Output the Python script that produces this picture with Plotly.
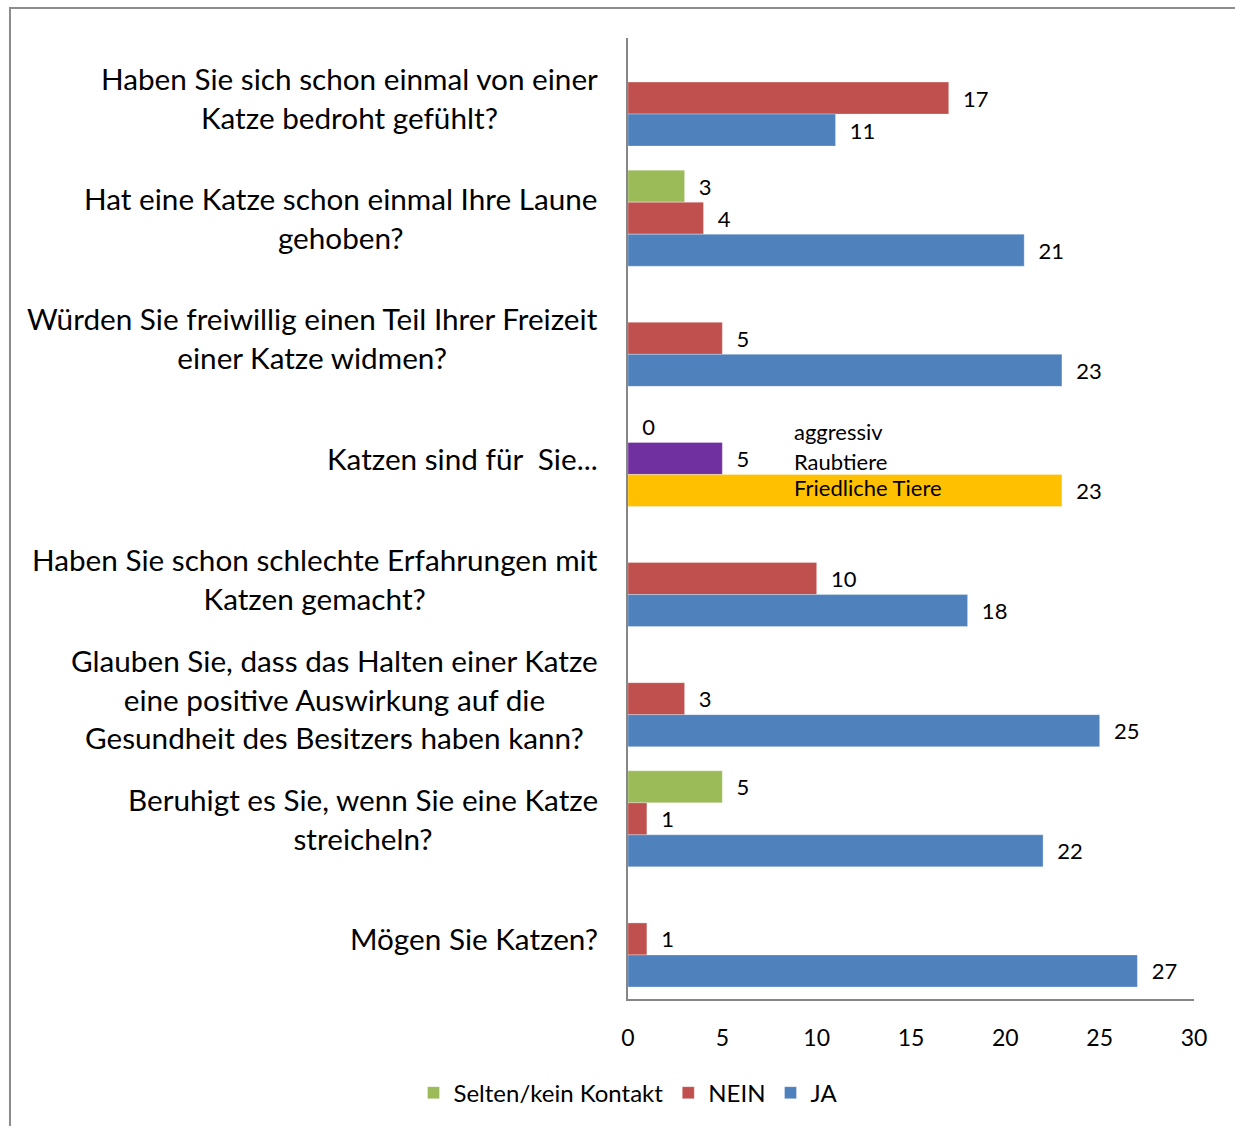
import plotly.graph_objects as go

# ---- data ----
categories = [
    "Haben Sie sich schon einmal von einer<br>Katze bedroht gefühlt?",
    "Hat eine Katze schon einmal Ihre Laune<br>gehoben?",
    "Würden Sie freiwillig einen Teil Ihrer Freizeit<br>einer Katze widmen?",
    "Katzen sind für  Sie...",
    "Haben Sie schon schlechte Erfahrungen mit<br>Katzen gemacht?",
    "Glauben Sie, dass das Halten einer Katze<br>eine positive Auswirkung auf die<br>Gesundheit des Besitzers haben kann?",
    "Beruhigt es Sie, wenn Sie eine Katze<br>streicheln?",
    "Mögen Sie Katzen?",
]
selten = [None, 3, None, 0, None, None, 5, None]
nein = [17, 4, 5, 5, 10, 3, 1, 1]
ja = [11, 21, 23, 23, 18, 25, 22, 27]
series_names = ["Selten/kein Kontakt", "NEIN", "JA"]
katzen_labels = ["aggressiv", "Raubtiere", "Friedliche Tiere"]
x_ticks = [0, 5, 10, 15, 20, 25, 30]

GREEN = "#9BBB59"
RED = "#C0504D"
BLUE = "#4F81BD"
PURPLE = "#7030A0"
GOLD = "#FFC000"
FONT = "Lato, 'Open Sans', sans-serif"

special = categories.index("Katzen sind für  Sie...")
nein_colors = [PURPLE if i == special else RED for i in range(len(categories))]
ja_colors = [GOLD if i == special else BLUE for i in range(len(categories))]


def labels(vals):
    return ["  %d" % v if v is not None else "" for v in vals]


fig = go.Figure()
for name, vals, col in [
    (series_names[0], selten, GREEN),
    (series_names[1], nein, nein_colors),
    (series_names[2], ja, ja_colors),
]:
    fig.add_trace(go.Bar(
        y=categories, x=vals, orientation="h", name=name,
        marker=dict(color=col, line=dict(width=1, color="rgba(255,255,255,0.3)")),
        text=labels(vals), textposition="outside",
        textfont=dict(family=FONT, size=22, color="#000000"),
        cliponaxis=False,
    ))

# Category labels (centered lines, right-aligned block)
for c in categories:
    fig.add_annotation(
        x=-0.0495, xref="paper", y=c, yref="y",
        text=c, showarrow=False, xanchor="right", yanchor="middle",
        align="center", font=dict(family=FONT, size=29.7, color="#000000"),
    )

# Legend-like labels for the "Katzen sind für Sie..." row
for txt, yp in zip(katzen_labels, [0.5904, 0.5593, 0.5322]):
    fig.add_annotation(
        x=8.7, xref="x", y=yp, yref="paper", text=txt, showarrow=False,
        xanchor="left", yanchor="middle",
        font=dict(family=FONT, size=22, color="#000000"),
    )

# outer chart border
fig.add_shape(type="rect", xref="paper", yref="paper",
              x0=-1.0919, x1=1.0813, y0=-0.1351, y1=1.0312,
              line=dict(color="#8C8C8C", width=2), fillcolor="rgba(0,0,0,0)",
              layer="below")

fig.update_layout(
    width=1235, height=1126,
    margin=dict(l=628, r=41, t=38, b=126),
    paper_bgcolor="white", plot_bgcolor="white",
    barmode="group", bargap=0.2, bargroupgap=0,
    font=dict(family=FONT, color="#000000"),
    showlegend=True,
    legend=dict(orientation="h", x=0.0, xanchor="center", y=-0.0967,
                yanchor="middle", font=dict(family=FONT, size=24),
                traceorder="normal", itemwidth=30),
    xaxis=dict(range=[0, 30], tickvals=x_ticks, showgrid=False, zeroline=False,
               showline=True, linecolor="#868686", linewidth=2,
               ticks="outside", ticklen=17, tickcolor="rgba(0,0,0,0)",
               tickfont=dict(family=FONT, size=23)),
    yaxis=dict(autorange="reversed", showticklabels=False, showgrid=False,
               zeroline=False, showline=True, linecolor="#868686", linewidth=2,
               ticks=""),
)

fig.write_html("out.html", config={"displayModeBar": False},
               post_script="document.body.style.margin='0';document.body.style.overflow='hidden';")
